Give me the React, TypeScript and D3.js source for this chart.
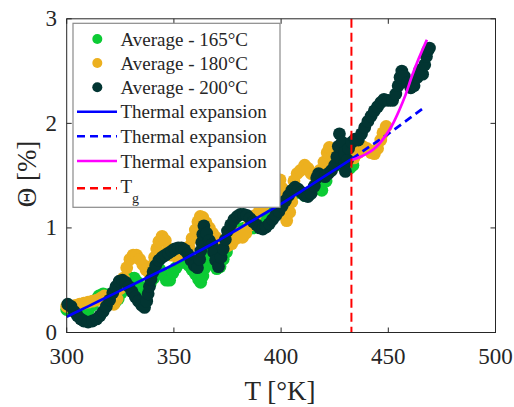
import React from 'react';
import * as d3 from 'd3';

// measured data, [T (K), Theta (%)]
const avg165: [number, number][] = [
  [300, 0.22], [302, 0.22], [304, 0.21], [306, 0.2], [308, 0.2], [310, 0.21], [312, 0.26], [313.5, 0.31],
  [315, 0.35], [317, 0.37], [319, 0.36], [321, 0.32], [322.5, 0.29], [324, 0.32], [325.5, 0.38], [327, 0.45],
  [328.5, 0.5], [330, 0.52], [331.5, 0.52], [333, 0.48], [334.5, 0.43], [336, 0.4], [337.5, 0.42], [339, 0.47],
  [340.5, 0.52], [342, 0.56], [343.5, 0.6], [345, 0.56], [346.5, 0.5], [348, 0.5], [349.5, 0.57], [351, 0.62],
  [353, 0.67], [355, 0.67], [357, 0.64], [358.5, 0.6], [360, 0.56], [361.5, 0.51], [362.5, 0.48], [363.5, 0.54],
  [364.5, 0.62], [365.5, 0.7], [366.5, 0.77], [367.5, 0.72], [368.5, 0.66], [370, 0.61], [371.5, 0.63], [373, 0.7],
  [374.5, 0.77], [376, 0.85], [377.5, 0.93], [379, 0.97], [381, 0.99], [383, 1.0], [385, 0.99], [387, 1.0],
  [389, 1.03], [391, 1.06], [393, 1.09], [395, 1.13], [397, 1.17], [399, 1.2], [401, 1.24], [403, 1.28],
  [405, 1.31], [407, 1.34], [409, 1.34], [411, 1.31], [413, 1.32], [415, 1.36], [417, 1.4], [419, 1.36],
  [421, 1.45], [422.5, 1.56], [424, 1.62], [426, 1.63], [428, 1.6], [430, 1.58], [432, 1.57], [433.5, 1.6],
  [434.5, 1.72], [435.2, 1.85],
];

const avg180: [number, number][] = [
  [300, 0.25], [302, 0.25], [304, 0.26], [306, 0.27], [308, 0.28], [310, 0.29], [312, 0.3], [314, 0.31],
  [316, 0.33], [317.5, 0.35], [319, 0.33], [320.5, 0.29], [322, 0.27], [323.5, 0.32], [325, 0.42], [326.5, 0.52],
  [328, 0.62], [329.5, 0.7], [331, 0.74], [332.5, 0.74], [334, 0.7], [335.5, 0.65], [337, 0.6], [338.5, 0.57],
  [340, 0.64], [341, 0.72], [342, 0.8], [343, 0.87], [344.5, 0.92], [346, 0.88], [347.5, 0.8], [349, 0.74],
  [351, 0.73], [353, 0.75], [355, 0.77], [357, 0.82], [358.5, 0.9], [360, 0.98], [361.2, 1.06], [362.3, 1.11],
  [363.5, 1.1], [365, 1.05], [366.5, 1.0], [368, 0.95], [369.5, 0.91], [371, 0.87], [373, 0.84], [375, 0.83],
  [377, 0.85], [379, 0.9], [380.5, 0.95], [382, 0.91], [383.5, 0.95], [385, 1.02], [386.5, 1.08], [388, 1.12],
  [390, 1.17], [392, 1.22], [394, 1.28], [396, 1.34], [397.5, 1.4], [398.5, 1.45], [399.5, 1.46], [400.5, 1.38],
  [401, 1.3], [401.5, 1.22], [402, 1.14], [402.6, 1.07], [404, 1.15], [405, 1.25], [405.5, 1.35], [406, 1.45],
  [407.5, 1.52], [409, 1.55], [411, 1.6], [412.5, 1.57], [414, 1.52], [416, 1.49], [418, 1.55], [420, 1.63],
  [421.5, 1.72], [422.5, 1.77], [424, 1.68], [426, 1.62], [428, 1.66], [430, 1.71], [432, 1.68], [434, 1.67],
  [436, 1.72], [438, 1.78], [440, 1.76], [442, 1.72], [443.5, 1.71], [445, 1.76], [446.5, 1.84], [447.5, 1.91],
  [449, 1.97],
];

const avg200: [number, number][] = [
  [300.5, 0.27], [302, 0.25], [303.5, 0.2], [305, 0.16], [306.5, 0.13], [308, 0.11], [310, 0.1], [312, 0.11],
  [314, 0.13], [315.5, 0.16], [317, 0.2], [318.5, 0.25], [320, 0.31], [321.5, 0.38], [323, 0.44], [324.5, 0.49],
  [326, 0.5], [327.5, 0.48], [329, 0.44], [330.5, 0.39], [332, 0.34], [333.5, 0.3], [335, 0.26], [336.3, 0.24],
  [337.3, 0.3], [338, 0.37], [338.6, 0.44], [339.3, 0.51], [340.3, 0.58], [341.5, 0.64], [343, 0.69], [344.5, 0.72],
  [346, 0.74], [347.5, 0.76], [349, 0.78], [350.5, 0.8], [352, 0.81], [353.5, 0.81], [355, 0.79], [356.5, 0.75],
  [358, 0.69], [359.5, 0.64], [361, 0.62], [362, 0.7], [362.5, 0.78], [363, 0.86], [363.5, 0.94], [364, 1.02],
  [365.3, 0.95], [366.5, 0.88], [367.8, 0.84], [368.5, 0.77], [369.5, 0.69], [370.8, 0.63], [372, 0.72], [373, 0.8],
  [374, 0.89], [375, 0.97], [376.5, 1.03], [378, 1.08], [379.5, 1.11], [381, 1.13], [382.5, 1.13], [384, 1.12],
  [385.5, 1.09], [387, 1.06], [388.5, 1.03], [390, 1.0], [391.5, 0.99], [393, 1.01], [394.5, 1.04], [396, 1.08],
  [397.5, 1.12], [399, 1.16], [400.5, 1.21], [402, 1.26], [403.5, 1.31], [405, 1.36], [406.5, 1.39], [408, 1.37],
  [409.5, 1.34], [411, 1.31], [412.5, 1.3], [414, 1.33], [415.5, 1.4], [416.6, 1.48], [417.5, 1.52], [419, 1.5],
  [420.5, 1.49], [422, 1.52], [423.5, 1.55], [425, 1.6], [426, 1.68], [426.7, 1.78], [427.2, 1.9], [428.5, 1.82],
  [429.5, 1.72], [429.8, 1.62], [430, 1.54], [431, 1.65], [431.5, 1.76], [433, 1.82], [434.5, 1.85], [436, 1.84],
  [437.5, 1.9], [439, 1.96], [440.5, 2.02], [442, 2.07], [443.5, 2.12], [445, 2.16], [446.5, 2.2], [448, 2.23],
  [450, 2.22], [452, 2.22], [453.5, 2.28], [454.6, 2.36], [455.5, 2.44], [456.3, 2.5], [457.5, 2.45], [459, 2.39],
  [460.5, 2.34], [462, 2.36], [463.5, 2.44], [464.7, 2.51], [466, 2.47], [467, 2.56], [467.8, 2.64], [468.5, 2.7],
  [469.2, 2.72],
];

const expansionSolid: [number, number][] = [
  [300, 0.15], [310, 0.25], [320, 0.35], [330, 0.45], [340, 0.55], [350, 0.65], [360, 0.76],
  [370, 0.87], [380, 0.99], [390, 1.11], [400, 1.23], [410, 1.36], [420, 1.49], [433, 1.66],
];
const expansionDashed: [number, number][] = [
  [433, 1.66], [440, 1.76], [450, 1.9], [460, 2.05], [466, 2.14],
];
const expansionRubber: [number, number][] = [
  [433, 1.65], [437, 1.68], [440, 1.71], [443, 1.75], [446, 1.81], [449, 1.89], [452, 1.99],
  [455, 2.12], [458, 2.27], [461, 2.45], [464, 2.61], [468, 2.8],
];
const Tg = 432.8;

const xTicks = [300, 350, 400, 450, 500];
const yTicks = [0, 1, 2, 3];

const green = '#0ccb34';
const orange = '#ecb01f';
const dark = '#023532';
const font = "'Liberation Serif', 'Times New Roman', Times, serif";

const W = 514;
const H = 407;
const m = { left: 66.7, right: 495.5, top: 18.8, bottom: 332.5 };

export default function App() {
  const x = d3.scaleLinear().domain([300, 500]).range([m.left, m.right]);
  const y = d3.scaleLinear().domain([0, 3]).range([m.bottom, m.top]);
  const line = d3
    .line<[number, number]>()
    .x((d) => x(d[0]))
    .y((d) => y(d[1]))
    .curve(d3.curveMonotoneX);

  const series = [
    { data: avg165, color: green },
    { data: avg180, color: orange },
    { data: avg200, color: dark },
  ];

  const legendRows = [
    { kind: 'dot', color: green, label: 'Average - 165°C', y: 39 },
    { kind: 'dot', color: orange, label: 'Average - 180°C', y: 63 },
    { kind: 'dot', color: dark, label: 'Average - 200°C', y: 87.3 },
    { kind: 'line', color: '#0000ff', dash: null, label: 'Thermal expansion', y: 111.7 },
    { kind: 'line', color: '#0000ff', dash: '8,5', label: 'Thermal expansion', y: 136.3 },
    { kind: 'line', color: '#ff00ff', dash: null, label: 'Thermal expansion', y: 161 },
    { kind: 'line', color: '#ff0000', dash: '8,5', label: 'T', y: 188.3 },
  ];

  const txt = { fontFamily: font, fill: '#262626' };

  return (
    <svg width={W} height={H} style={{ position: 'absolute', left: 0, top: 0, background: '#fff' }}>
      <rect x={0} y={0} width={W} height={H} fill="#fff" />

      {/* scatter */}
      {series.map((s, i) => (
        <g key={i}>
          {s.data.map((d, j) => (
            <circle key={j} cx={x(d[0])} cy={y(d[1])} r={6.4} fill={s.color} />
          ))}
        </g>
      ))}

      {/* fits */}
      <path d={line(expansionSolid) ?? ''} fill="none" stroke="#0000ff" strokeWidth={2.7} />
      <path d={line(expansionDashed) ?? ''} fill="none" stroke="#0000ff" strokeWidth={2.7} strokeDasharray="8,5" />
      <path d={line(expansionRubber) ?? ''} fill="none" stroke="#ff00ff" strokeWidth={2.7} />
      <line x1={x(Tg)} x2={x(Tg)} y1={m.top} y2={m.bottom} stroke="#ff0000" strokeWidth={2} strokeDasharray="9,5" />

      {/* frame and ticks */}
      <rect x={m.left} y={m.top} width={m.right - m.left} height={m.bottom - m.top} fill="none" stroke="#262626" strokeWidth={1} />
      {xTicks.map((t) => (
        <g key={'x' + t}>
          <line x1={x(t)} x2={x(t)} y1={m.bottom} y2={m.bottom - 5} stroke="#262626" />
          <line x1={x(t)} x2={x(t)} y1={m.top} y2={m.top + 5} stroke="#262626" />
          <text x={x(t)} y={364} textAnchor="middle" fontSize={23} style={txt}>
            {t}
          </text>
        </g>
      ))}
      {yTicks.map((t) => (
        <g key={'y' + t}>
          <line x1={m.left} x2={m.left + 5} y1={y(t)} y2={y(t)} stroke="#262626" />
          <line x1={m.right} x2={m.right - 5} y1={y(t)} y2={y(t)} stroke="#262626" />
          <text x={57} y={y(t) + 7.5} textAnchor="end" fontSize={23} style={txt}>
            {t}
          </text>
        </g>
      ))}

      <text x={280} y={400} textAnchor="middle" fontSize={27} style={txt}>
        T [°K]
      </text>
      <text transform="translate(36,174) rotate(-90)" textAnchor="middle" fontSize={27} style={txt}>
        Θ [%]
      </text>

      {/* legend */}
      <rect x={73} y={23.3} width={207} height={184} fill="#fff" stroke="#8a8a8a" strokeWidth={1.2} />
      {legendRows.map((r, i) => (
        <g key={i}>
          {r.kind === 'dot' ? (
            <circle cx={97.3} cy={r.y} r={5} fill={r.color} />
          ) : (
            <line x1={77} x2={117} y1={r.y} y2={r.y} stroke={r.color} strokeWidth={2.5} strokeDasharray={r.dash ?? undefined} />
          )}
          <text x={120.5} y={r.label === 'T' ? r.y + 5 : r.y + 6.5} fontSize={19} style={txt}>
            {r.label}
            {r.label === 'T' ? (
              <tspan fontSize={14} dy={10}>
                g
              </tspan>
            ) : null}
          </text>
        </g>
      ))}
    </svg>
  );
}
